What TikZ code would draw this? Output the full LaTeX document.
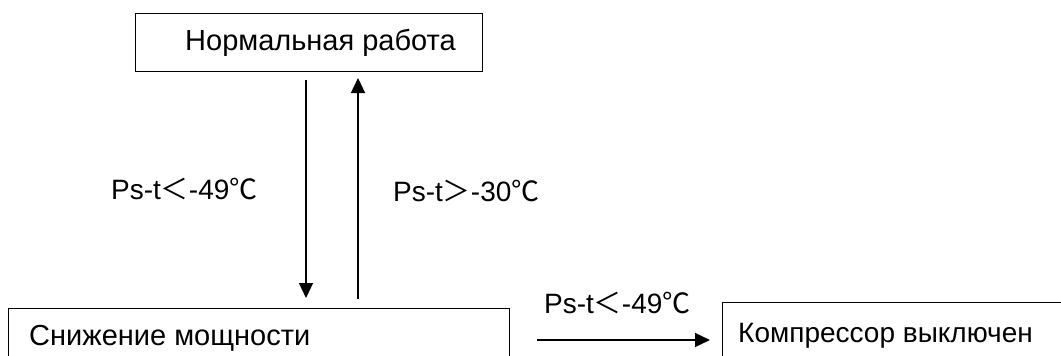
\documentclass[tikz,border=0pt]{standalone}
\usepackage{fontspec}
\setmainfont{Liberation Sans}
\newfontfamily\cjk{Noto Sans CJK SC}
\usetikzlibrary{arrows.meta}
\newcommand{\lt}{{\cjk ＜}}
\newcommand{\gt}{{\cjk ＞}}
\newcommand{\degc}{{\cjk ℃}}
\begin{document}
\begin{tikzpicture}[x=1pt,y=-1pt,
  box/.style={draw,line width=1.3pt,inner sep=0pt,anchor=north west},
  txt/.style={inner sep=0pt,anchor=base west,font=\fontsize{28}{30}\selectfont},
  btxt/.style={inner sep=0pt,anchor=base west,font=\fontsize{29}{31}\selectfont},
  arr/.style={line width=1.3pt,-{Triangle[width=14pt,length=15pt]}}]
\useasboundingbox (0,0) rectangle (1061,356);
% boxes
\node[box,minimum width=347pt,minimum height=58pt] (top) at (135,13) {};
\node[box,minimum width=501pt,minimum height=80pt] (low) at (8,308) {};
\node[box,minimum width=400pt,minimum height=80pt] (comp) at (722,302) {};
% box texts
\node[btxt] (toptxt) at (185,50) {Нормальная работа};
\node[btxt] (lowtxt) at (29,345) {Снижение мощности};
\node[txt] (comptxt) at (738,342) {Компрессор выключен};
% connector end points
\coordinate (d1) at (306,79);
\coordinate (d2) at (306,298);
\coordinate (u1) at (358,299);
\coordinate (u2) at (358,78);
\coordinate (h1) at (537,340);
\coordinate (h2) at (710,340);
\draw[arr] (top.south -| d1) ++(0,8) -- (d2);
\draw[arr] (low.north -| u1) ++(0,-9) -- (u2);
\draw[arr] (h1) -- (h2);
% labels
\node[txt] (l1) at (111,199) {Ps-t\lt-49\degc};
\node[txt] (l2) at (393,201) {Ps-t\gt-30\degc};
\node[txt] (l3) at (544,313) {Ps-t\lt-49\degc};
\end{tikzpicture}
\end{document}
